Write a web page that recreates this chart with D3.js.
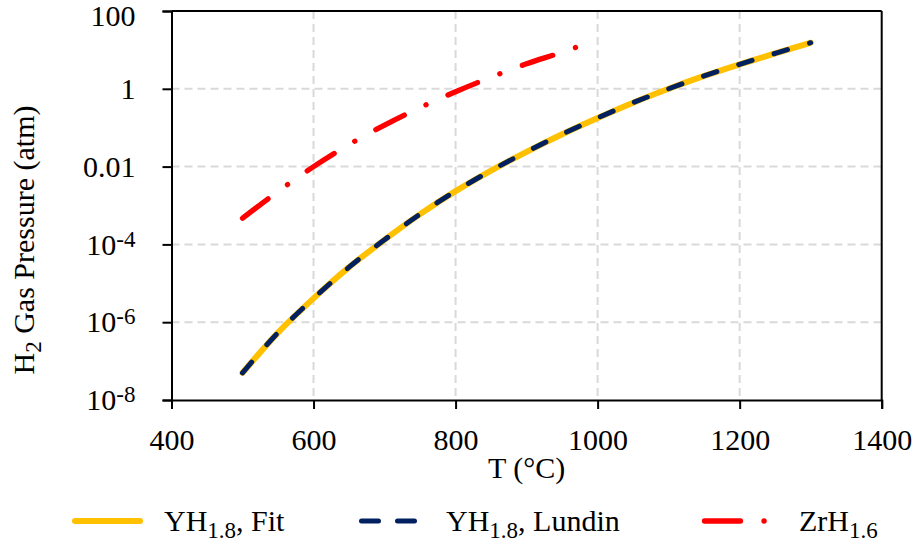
<!DOCTYPE html>
<html>
<head>
<meta charset="utf-8">
<script src="https://cdn.jsdelivr.net/npm/d3@7/dist/d3.min.js"></script>
<style>
  html, body { margin: 0; padding: 0; background: #fff; }
  svg { display: block; }
  text { font-family: "Liberation Serif", "Times New Roman", serif; fill: #000; }
</style>
</head>
<body>
<svg id="chart" width="916" height="545"></svg>
<script>
// Temperatures (°C) and equilibrium H2 pressures (atm)
const yhTemps = [500, 550, 600, 650, 700, 750, 800, 850, 900, 950, 1000, 1050, 1100, 1150, 1200, 1250, 1300];
const yhFit = [5.0e-8, 5.4e-7, 4.1e-6, 2.6e-5, 1.32e-4, 6.0e-4, 2.34e-3, 7.9e-3, 0.024, 0.068, 0.178, 0.44, 1.0, 2.14, 4.27, 8.13, 15.3];
const yhLundin = [5.0e-8, 5.4e-7, 4.1e-6, 2.6e-5, 1.32e-4, 6.0e-4, 2.34e-3, 7.9e-3, 0.024, 0.068, 0.178, 0.44, 1.0, 2.14, 4.27, 8.13, 15.3];
const zrTemps = [500, 550, 600, 650, 700, 750, 800, 850, 900, 950, 975];
const zrH = [4.7e-4, 2.3e-3, 0.010, 0.037, 0.117, 0.33, 0.84, 1.99, 4.4, 8.7, 12.6];

// Axis ticks
const xTicks = [400, 600, 800, 1000, 1200, 1400];
const yTicks = [1e-8, 1e-6, 1e-4, 1e-2, 1, 100];
const yTickBase = ["10", "10", "10", "0.01", "1", "100"];
const yTickExp = ["-8", "-6", "-4", "", "", ""];

const seriesNames = [["YH", "1.8", ", Fit"], ["YH", "1.8", ", Lundin"], ["ZrH", "1.6", ""]];

const svg = d3.select("#chart");
const W = 916, H = 545;
const m = { left: 171.5, right: 881.7, top: 11, bottom: 400 };

svg.append("rect").attr("width", W).attr("height", H).attr("fill", "#fff");

const x = d3.scaleLinear().domain([400, 1400]).range([m.left, m.right]);
const y = d3.scaleLog().domain([1e-8, 100]).range([m.bottom, m.top]);

const FS = 30, SUB = 23;

// Gridlines
const grid = svg.append("g").attr("stroke", "#d9d9d9").attr("stroke-width", 2).attr("stroke-dasharray", "8,5");
grid.selectAll(".hg").data(yTicks.slice(1, -1)).join("line")
  .attr("x1", m.left).attr("x2", m.right)
  .attr("y1", d => y(d)).attr("y2", d => y(d));
grid.selectAll(".vg").data(xTicks.slice(1, -1)).join("line")
  .attr("y1", m.top).attr("y2", m.bottom)
  .attr("x1", d => x(d)).attr("x2", d => x(d));

// Series
const line = (xs) => d3.line()
  .x((d, i) => x(xs[i]))
  .y(d => y(d))
  .curve(d3.curveMonotoneX);

svg.append("path").datum(yhFit)
  .attr("d", line(yhTemps))
  .attr("fill", "none").attr("stroke", "#ffc000").attr("stroke-width", 6)
  .attr("stroke-linecap", "round").attr("stroke-linejoin", "round");

svg.append("path").datum(yhLundin)
  .attr("d", line(yhTemps))
  .attr("fill", "none").attr("stroke", "#002060").attr("stroke-width", 5)
  .attr("stroke-linecap", "round").attr("stroke-dasharray", "14,23");

svg.append("path").datum(zrH)
  .attr("d", line(zrTemps))
  .attr("fill", "none").attr("stroke", "#ff0000").attr("stroke-width", 5.3)
  .attr("stroke-linecap", "round").attr("stroke-dasharray", "32,24,0.1,24");

// Frame
const frame = svg.append("g").attr("stroke", "#000").attr("stroke-width", 2);
frame.append("line").attr("x1", m.left).attr("x2", m.right).attr("y1", m.top).attr("y2", m.top);
frame.append("line").attr("x1", m.right).attr("x2", m.right).attr("y1", m.top).attr("y2", m.bottom);

// Axes
const xAxis = svg.append("g").attr("transform", `translate(0,${m.bottom})`)
  .call(d3.axisBottom(x).tickValues(xTicks).tickSize(9).tickPadding(20).tickFormat(d3.format("d")));
const yAxis = svg.append("g").attr("transform", `translate(${m.left},0)`)
  .call(d3.axisLeft(y).tickValues(yTicks).tickSize(9).tickPadding(27).tickFormat(() => ""));

[xAxis, yAxis].forEach(g => {
  g.select(".domain").attr("stroke", "#000").attr("stroke-width", 2);
  g.selectAll(".tick line").attr("stroke", "#000").attr("stroke-width", 2);
  g.selectAll("text").attr("font-size", FS).attr("font-family", "Liberation Serif, Times New Roman, serif").attr("fill", "#000");
});

yAxis.selectAll(".tick text").each(function (d, i) {
  const t = d3.select(this);
  t.text(null);
  // keep the top label inside the page
  if (i === yTicks.length - 1) t.attr("y", 5);
  t.append("tspan").text(yTickBase[i]);
  if (yTickExp[i]) {
    t.append("tspan").attr("font-size", SUB).attr("dy", -8).text(yTickExp[i]);
  }
});

// Axis titles
svg.append("text").attr("x", (m.left + m.right) / 2).attr("y", 478)
  .attr("text-anchor", "middle").attr("font-size", FS).text("T (°C)");

const yt = svg.append("text").attr("transform", "translate(34,240) rotate(-90)")
  .attr("text-anchor", "middle").attr("font-size", FS);
yt.append("tspan").text("H");
yt.append("tspan").attr("font-size", SUB).attr("dy", 7).text("2");
yt.append("tspan").attr("dy", -7).text(" Gas Pressure (atm)");

// Legend
const legY = 521;
const leg = svg.append("g");
leg.append("line").attr("x1", 75).attr("x2", 140).attr("y1", legY).attr("y2", legY)
  .attr("stroke", "#ffc000").attr("stroke-width", 6).attr("stroke-linecap", "round");
leg.append("line").attr("x1", 361.5).attr("x2", 414.5).attr("y1", legY).attr("y2", legY)
  .attr("stroke", "#002060").attr("stroke-width", 5).attr("stroke-linecap", "round").attr("stroke-dasharray", "17,19");
leg.append("line").attr("x1", 704.5).attr("x2", 764.1).attr("y1", legY).attr("y2", legY)
  .attr("stroke", "#ff0000").attr("stroke-width", 5.3).attr("stroke-linecap", "round").attr("stroke-dasharray", "36,23.5,0.1,30");

const legTextX = [164, 446, 799];
seriesNames.forEach((s, i) => {
  const t = leg.append("text").attr("x", legTextX[i]).attr("y", 531).attr("font-size", FS);
  t.append("tspan").text(s[0]);
  t.append("tspan").attr("font-size", SUB).attr("dy", 7).text(s[1]);
  if (s[2]) t.append("tspan").attr("dy", -7).text(s[2]);
});
</script>
</body>
</html>
